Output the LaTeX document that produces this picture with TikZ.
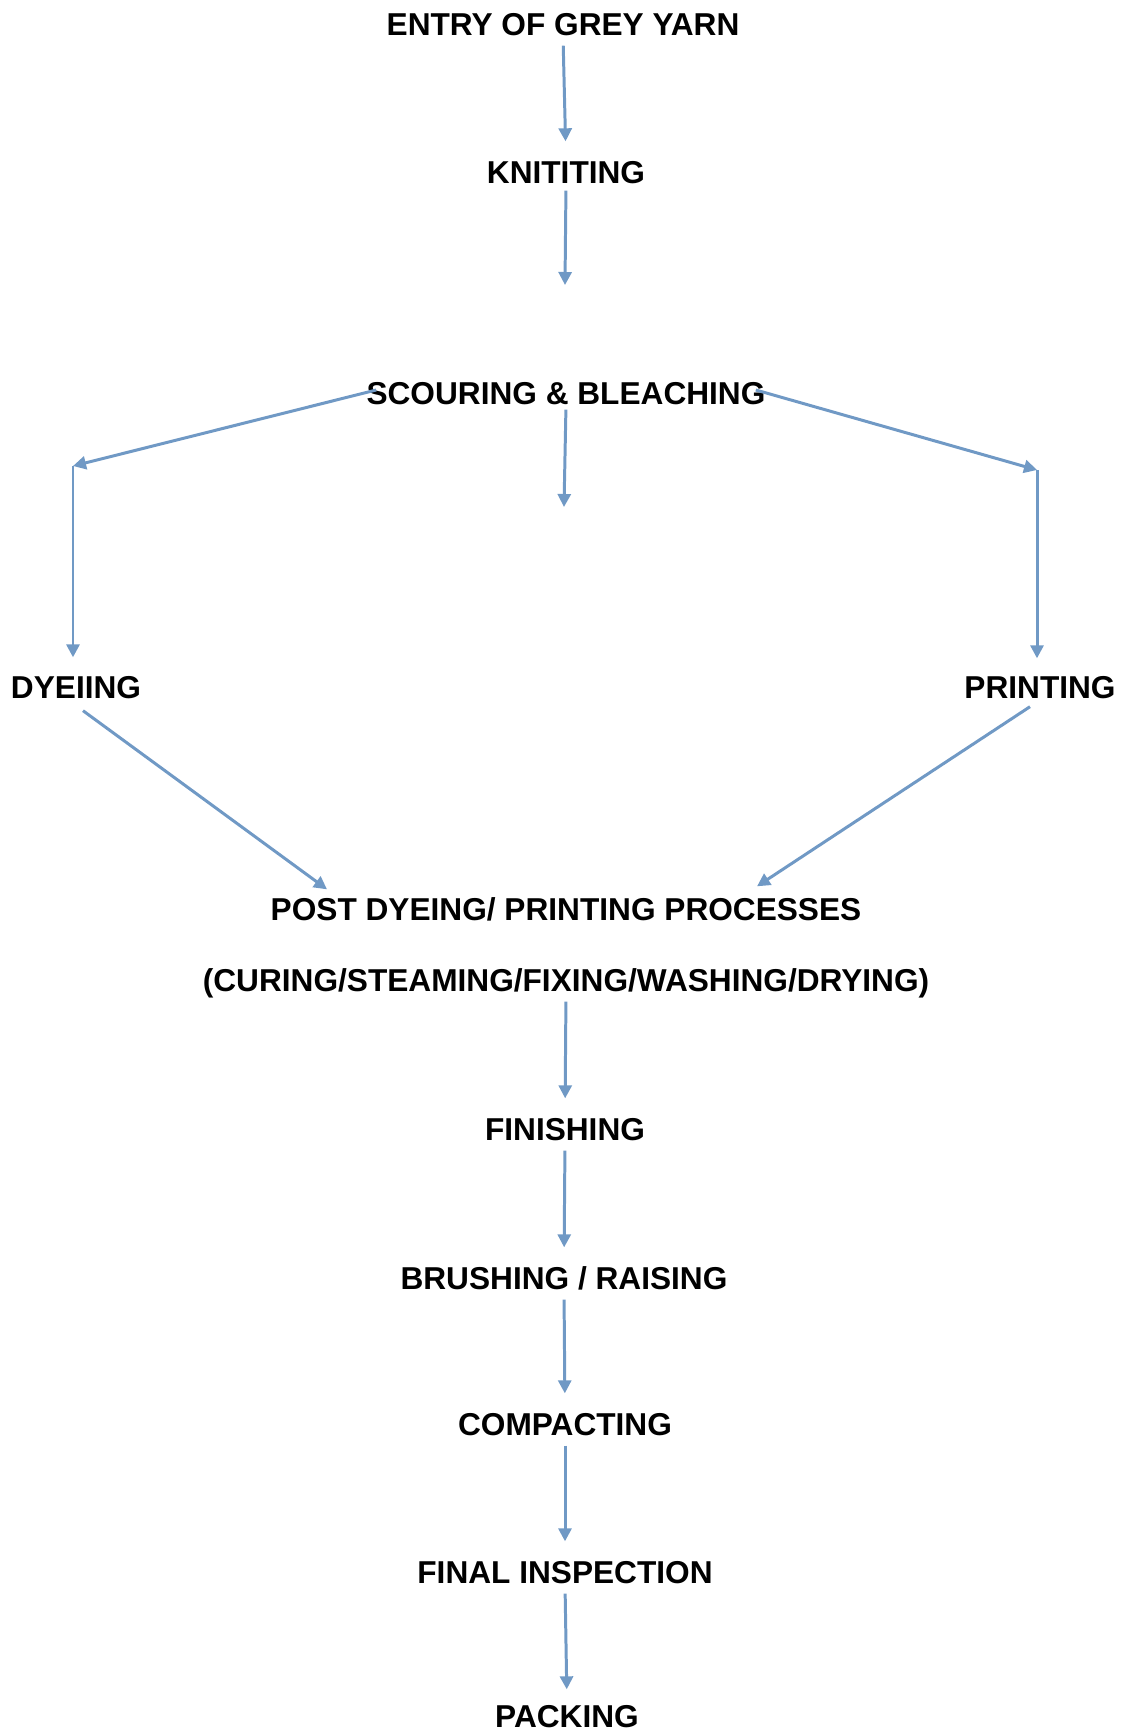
\documentclass[tikz,border=0pt]{standalone}
\usepackage{fontspec}
\setmainfont{Liberation Sans}
\usepackage{tikz}
\usetikzlibrary{arrows.meta,calc}
\definecolor{flowblue}{RGB}{112,153,197}

\begin{document}
\begin{tikzpicture}[
    stage/.style={inner sep=0pt, text height=12.9pt, text depth=0pt,
      font=\bfseries\fontsize{18}{21}\selectfont},
    flow/.style={draw=flowblue, line width=1.7pt,
      -{Triangle[length=0.26cm,width=0.26cm]},
      shorten <=0.2cm, shorten >=0.38cm},
    bare/.style={draw=flowblue, line width=1.7pt,
      -{Triangle[length=0.26cm,width=0.26cm]}}
  ]
    \useasboundingbox (0cm, 0cm) rectangle (22.52cm, -34.66cm);

      % Stages
      \node[stage] (entry) at (11.26cm, -0.48cm) {ENTRY OF GREY YARN};
      \node[stage] (knit) at (11.32cm, -3.44cm) {KNITITING};
      \node[stage] (scour) at (11.32cm, -7.86cm) {SCOURING \& BLEACHING};
      \node[stage] (dye) at (1.52cm, -13.74cm) {DYEIING};
      \node[stage] (print) at (20.80cm, -13.74cm) {PRINTING};
      \node[stage] (post) at (11.32cm, -18.18cm) {POST DYEING/ PRINTING PROCESSES};
      \node[stage] (cure) at (11.32cm, -19.60cm) {(CURING/STEAMING/FIXING/WASHING/DRYING)};
      \node[stage] (finish) at (11.30cm, -22.58cm) {FINISHING};
      \node[stage] (brush) at (11.28cm, -25.56cm) {BRUSHING / RAISING};
      \node[stage] (compact) at (11.30cm, -28.48cm) {COMPACTING};
      \node[stage] (final) at (11.30cm, -31.44cm) {FINAL INSPECTION};
      \node[stage] (pack) at (11.34cm, -34.32cm) {PACKING};

      % Free ends
      \coordinate (knitend) at (11.30cm, -5.70cm);
      \coordinate (scourend) at (11.28cm, -10.14cm);
      \coordinate (dyeturn) at (1.46cm, -9.32cm);
      \coordinate (printturn) at (20.74cm, -9.40cm);

      % Main line
      \draw[flow] (entry.south) -- (knit.north);
      \draw[flow, shorten <=0.14cm, shorten >=0pt] (knit.south) -- (knitend);
      \draw[flow, shorten <=0.1cm, shorten >=0pt] (scour.south) -- (scourend);

      % Branches
      \draw[bare] ([xshift=0.2cm, yshift=0.06cm]scour.west) -- (dyeturn);
      \draw[bare, shorten >=0.36cm] (dyeturn) -- (dyeturn |- dye.north);
      \draw[bare] ([xshift=-0.2cm, yshift=0.06cm]scour.east) -- (printturn);
      \draw[bare, shorten >=0.34cm] (printturn) -- (printturn |- print.north);
      \draw[bare] ([xshift=0.14cm, yshift=-0.24cm]dye.south)
        -- ([xshift=-4.78cm, yshift=0.16cm]post.north);
      \draw[bare] ([xshift=-0.20cm, yshift=-0.16cm]print.south)
        -- ([xshift=3.82cm, yshift=0.22cm]post.north);

      % After post processes
      \draw[flow] (cure.south) -- (finish.north);
      \draw[flow] (finish.south) -- (brush.north);
      \draw[flow] (brush.south) -- (compact.north);
      \draw[flow] (compact.south) -- (final.north);
      \draw[flow, shorten >=0.3cm] (final.south) -- (pack.north);
  \end{tikzpicture}
\end{document}
